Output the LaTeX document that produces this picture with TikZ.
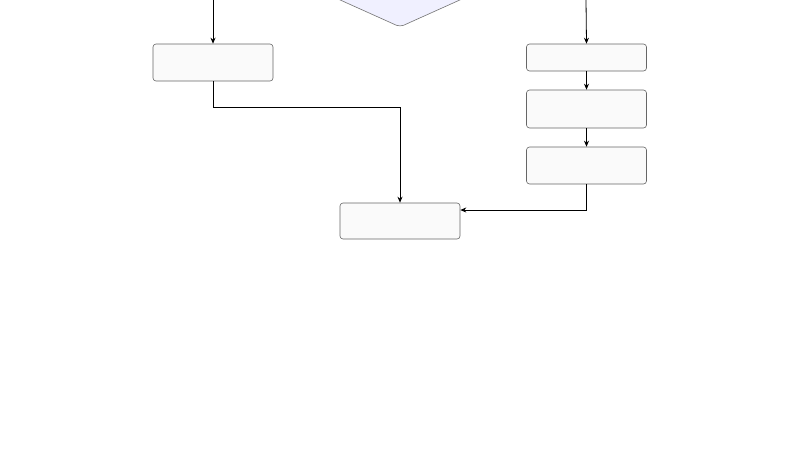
\documentclass[tikz,border=0pt]{standalone}
\usetikzlibrary{arrows.meta,shapes.geometric}
\begin{document}
\begin{tikzpicture}[x=1pt,y=-1pt,
  box/.style={draw=black!60,fill=black!2,rounded corners=3pt,minimum width=120pt,inner sep=0pt,line width=0.6pt},
  conn/.style={draw=black,line width=0.8pt,-{Stealth[length=6pt,width=5pt]}}]
\useasboundingbox (0,0) rectangle (800,450);
\clip (0,0) rectangle (800,450);
\fill[white] (0,0) rectangle (800,450);
\node[draw=black!55,fill=blue!6,diamond,rounded corners=4pt,minimum width=240pt,minimum height=108pt,inner sep=0pt,aspect=2.2,line width=0.6pt] (d) at (400,-27) {};
\coordinate (tl) at (213,0);
\coordinate (tr) at (586,0);
\node[box,minimum height=37pt] (a) at (213,62.5) {};
\node[box,minimum height=27pt] (b1) at (586.5,57.5) {};
\node[box,minimum height=38pt] (b2) at (586.5,109) {};
\node[box,minimum height=37pt] (b3) at (586.5,165.5) {};
\node[box,minimum height=36pt] (c) at (400,221) {};
\draw[conn] (tl) -- (a.north);
\draw[conn] (tr) -- (b1.north);
\draw[conn] (b1) -- (b2);
\draw[conn] (b2) -- (b3);
\draw[conn] (a.south) |- (400,107) -- (c.north);
\draw[conn] (b3.south) |- (c.east |- 0,210);
\end{tikzpicture}
\end{document}
